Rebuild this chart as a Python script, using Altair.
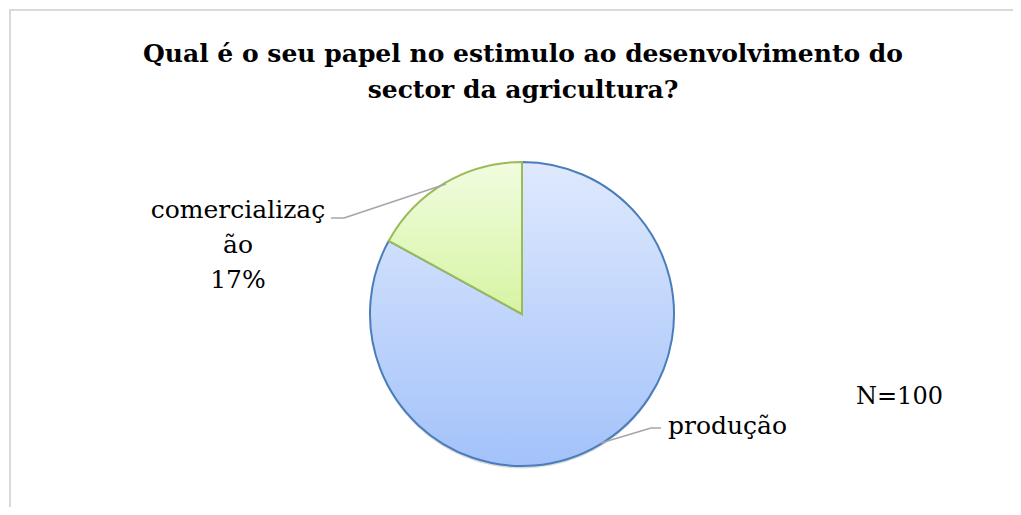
import altair as alt
import pandas as pd

# ---- data ----
categories = ["produção", "comercialização"]
values = [83, 17]
order = [1, 2]
title_lines = ["Qual é o seu papel no estimulo ao desenvolvimento do", "sector da agricultura?"]
n_label = "N=100"

df = pd.DataFrame({"category": categories, "value": values, "order": order})

W, H = 1005, 499
CX, CY, R = 513, 305, 152
FONT = "DejaVu Serif"

grad_blue = {
    "gradient": "linear", "x1": 0, "y1": 0, "x2": 0, "y2": 1,
    "stops": [{"offset": 0, "color": "#dfe9fd"}, {"offset": 1, "color": "#a3c2fa"}],
}
grad_green = {
    "gradient": "linear", "x1": 0, "y1": 0, "x2": 0, "y2": 1,
    "stops": [{"offset": 0, "color": "#f1fce0"}, {"offset": 1, "color": "#d6f4a2"}],
}

one = pd.DataFrame({"k": [0]})

shadow = alt.Chart(one).mark_arc(
    radius=R, theta=0, theta2=6.2832, color="#000000", opacity=0.15
).encode(x=alt.value(CX), y=alt.value(CY + 2.5))

pie = alt.Chart(df).mark_arc(radius=R, strokeWidth=2).encode(
    theta=alt.Theta("value:Q", stack=True),
    order=alt.Order("order:O", sort="ascending"),
    x=alt.value(CX),
    y=alt.value(CY),
    color=alt.condition(alt.datum.category == categories[0], alt.value(grad_blue), alt.value(grad_green)),
    stroke=alt.condition(alt.datum.category == categories[0], alt.value("#4a7ebb"), alt.value("#9bbb59")),
)

com_label = [categories[1][:13], categories[1][13:], f"{values[1]}%"]
lab_com = alt.Chart(one).mark_text(
    font=FONT, fontSize=25, align="center", baseline="alphabetic", lineHeight=35, color="#000000"
).encode(x=alt.value(229), y=alt.value(209), text=alt.value(com_label))

lab_prod = alt.Chart(one).mark_text(
    font=FONT, fontSize=25, align="left", baseline="alphabetic", color="#000000"
).encode(x=alt.value(659), y=alt.value(425), text=alt.value(categories[0]))

lab_n = alt.Chart(one).mark_text(
    font=FONT, fontSize=24, align="left", baseline="alphabetic", color="#000000"
).encode(x=alt.value(847), y=alt.value(395), text=alt.value(n_label))

title = alt.Chart(one).mark_text(
    font=FONT, fontSize=25, fontWeight="bold", align="center", baseline="alphabetic",
    lineHeight=36, color="#000000"
).encode(x=alt.value(514), y=alt.value(53), text=alt.value(title_lines))

def seg(x1, y1, x2, y2, color="#a6a6a6", w=1.5):
    return alt.Chart(one).mark_rule(color=color, strokeWidth=w).encode(
        x=alt.value(x1), y=alt.value(y1), x2=alt.value(x2), y2=alt.value(y2)
    )

leaders = [
    seg(322, 209, 335, 209), seg(335, 209, 437, 175),
    seg(642, 419, 652, 419), seg(592, 434, 642, 419),
]

frame = [
    seg(0, 1, W, 1, color="#d9d9d9", w=2),
    seg(1, 0, 1, H, color="#d9d9d9", w=2),
]

chart = alt.layer(
    *frame, shadow, pie, *leaders, lab_com, lab_prod, lab_n, title
).properties(
    width=W, height=H,
    autosize=alt.AutoSizeParams(type="fit", contains="padding"),
    padding=0,
).configure_view(stroke=None)

chart.save("out.html", embed_options={"renderer": "svg", "actions": False})
